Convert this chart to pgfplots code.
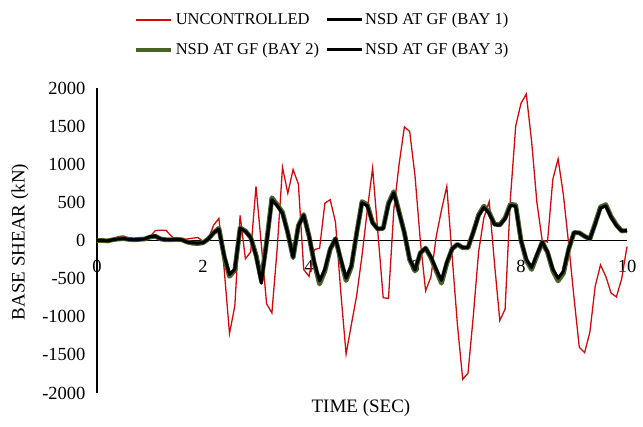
\documentclass[border=0pt]{standalone}
\usepackage{fontspec}
\setmainfont{Liberation Serif}
\usepackage{pgfplots}
\usepackage{pgfplotstable}
\pgfplotsset{compat=1.18}
\definecolor{ucred}{RGB}{210,10,10}
\definecolor{nsdgreen}{RGB}{70,100,40}

\pgfplotstableread{
t v
0.0 0
0.1 -5
0.2 -10
0.3 20
0.4 50
0.5 60
0.6 30
0.7 10
0.8 40
0.9 20
1.0 50
1.1 130
1.2 135
1.3 135
1.4 60
1.5 0
1.6 10
1.7 20
1.8 30
1.9 40
2.0 -10
2.1 20
2.2 200
2.3 290
2.4 -380
2.5 -1220
2.6 -860
2.7 330
2.8 -240
2.9 -150
3.0 710
3.1 -50
3.2 -830
3.3 -950
3.4 -100
3.5 960
3.6 620
3.7 930
3.8 740
3.9 -380
4.0 -470
4.1 -120
4.2 -100
4.3 490
4.4 535
4.5 240
4.6 -680
4.7 -1490
4.8 -1100
4.9 -720
5.0 -200
5.1 400
5.2 950
5.3 100
5.4 -750
5.5 -760
5.6 400
5.7 1000
5.8 1490
5.9 1430
6.0 850
6.1 0
6.2 -660
6.3 -480
6.4 50
6.5 400
6.6 710
6.7 -200
6.8 -1100
6.9 -1820
7.0 -1740
7.1 -990
7.2 -150
7.3 300
7.4 510
7.5 -300
7.6 -1050
7.7 -900
7.8 550
7.9 1500
8.0 1800
8.1 1920
8.2 1300
8.3 500
8.4 0
8.5 -20
8.6 800
8.7 1070
8.8 600
8.9 -50
9.0 -750
9.1 -1400
9.2 -1470
9.3 -1200
9.4 -600
9.5 -320
9.6 -470
9.7 -690
9.8 -740
9.9 -500
10.0 -80
}\uncontrolled

\pgfplotstableread{
t v
0.0 0
0.1 0
0.2 -5
0.3 10
0.4 20
0.5 25
0.6 15
0.7 10
0.8 15
0.9 20
1.0 50
1.1 60
1.2 20
1.3 10
1.4 10
1.5 15
1.6 10
1.7 -20
1.8 -30
1.9 -35
2.0 -30
2.1 20
2.2 100
2.3 155
2.4 -200
2.5 -450
2.6 -380
2.7 160
2.8 120
2.9 40
3.0 -200
3.1 -560
3.2 -30
3.3 540
3.4 460
3.5 360
3.6 100
3.7 -220
3.8 190
3.9 335
4.0 60
4.1 -290
4.2 -540
4.3 -380
4.4 -110
4.5 25
4.6 -250
4.7 -500
4.8 -330
4.9 100
5.0 500
5.1 460
5.2 230
5.3 150
5.4 160
5.5 480
5.6 630
5.7 370
5.8 100
5.9 -250
6.0 -390
6.1 -160
6.2 -100
6.3 -220
6.4 -380
6.5 -530
6.6 -290
6.7 -110
6.8 -50
6.9 -90
7.0 -90
7.1 110
7.2 330
7.3 440
7.4 360
7.5 210
7.6 200
7.7 290
7.8 465
7.9 455
8.0 0
8.1 -250
8.2 -360
8.3 -190
8.4 -20
8.5 -150
8.6 -380
8.7 -500
8.8 -410
8.9 -110
9.0 105
9.1 100
9.2 55
9.3 20
9.4 220
9.5 430
9.6 460
9.7 310
9.8 200
9.9 125
10.0 130
}\bayone

\pgfplotstableread{
t v
0.0 0
0.1 0
0.2 -5
0.3 10
0.4 20
0.5 25
0.6 15
0.7 10
0.8 15
0.9 20
1.0 45
1.1 55
1.2 20
1.3 10
1.4 10
1.5 15
1.6 10
1.7 -20
1.8 -35
1.9 -40
2.0 -30
2.1 20
2.2 100
2.3 160
2.4 -210
2.5 -470
2.6 -390
2.7 165
2.8 125
2.9 40
3.0 -190
3.1 -520
3.2 -20
3.3 560
3.4 470
3.5 370
3.6 100
3.7 -225
3.8 195
3.9 340
4.0 60
4.1 -300
4.2 -570
4.3 -400
4.4 -115
4.5 25
4.6 -260
4.7 -525
4.8 -345
4.9 100
5.0 510
5.1 470
5.2 235
5.3 150
5.4 160
5.5 490
5.6 640
5.7 375
5.8 100
5.9 -255
6.0 -400
6.1 -165
6.2 -100
6.3 -225
6.4 -395
6.5 -560
6.6 -300
6.7 -110
6.8 -50
6.9 -95
7.0 -95
7.1 110
7.2 335
7.3 450
7.4 365
7.5 215
7.6 205
7.7 295
7.8 475
7.9 465
8.0 0
8.1 -260
8.2 -380
8.3 -200
8.4 -20
8.5 -155
8.6 -395
8.7 -530
8.8 -430
8.9 -115
9.0 105
9.1 100
9.2 55
9.3 20
9.4 225
9.5 440
9.6 470
9.7 315
9.8 205
9.9 125
10.0 130
}\baytwo

\pgfplotstableread{
t v
0.0 0
0.1 0
0.2 -5
0.3 10
0.4 20
0.5 25
0.6 15
0.7 10
0.8 15
0.9 20
1.0 50
1.1 60
1.2 20
1.3 10
1.4 10
1.5 15
1.6 10
1.7 -20
1.8 -30
1.9 -35
2.0 -30
2.1 20
2.2 100
2.3 150
2.4 -200
2.5 -445
2.6 -375
2.7 160
2.8 120
2.9 40
3.0 -200
3.1 -555
3.2 -30
3.3 535
3.4 455
3.5 355
3.6 100
3.7 -220
3.8 190
3.9 330
4.0 60
4.1 -285
4.2 -530
4.3 -375
4.4 -110
4.5 25
4.6 -245
4.7 -495
4.8 -325
4.9 100
5.0 495
5.1 455
5.2 230
5.3 150
5.4 160
5.5 475
5.6 625
5.7 365
5.8 100
5.9 -245
6.0 -385
6.1 -160
6.2 -100
6.3 -215
6.4 -375
6.5 -525
6.6 -285
6.7 -110
6.8 -50
6.9 -90
7.0 -90
7.1 110
7.2 325
7.3 435
7.4 355
7.5 210
7.6 200
7.7 285
7.8 460
7.9 450
8.0 0
8.1 -245
8.2 -355
8.3 -185
8.4 -20
8.5 -150
8.6 -375
8.7 -495
8.8 -405
8.9 -110
9.0 105
9.1 100
9.2 55
9.3 20
9.4 215
9.5 425
9.6 455
9.7 305
9.8 195
9.9 125
10.0 130
}\baythree

\begin{document}
\begin{tikzpicture}[x=1pt,y=1pt]
\useasboundingbox (0,0) rectangle (643,426);
\begin{axis}[
  at={(97pt,33pt)}, anchor=south west,
  width=530pt, height=305pt, scale only axis,
  xmin=0, xmax=10, ymin=-2000, ymax=2000,
  axis x line=middle, axis y line=left,
  hide obscured x ticks=false,
  hide obscured y ticks=false,
  axis line style={-, black},
  x axis line style={line width=1.2pt},
  y axis line style={line width=1.8pt},
  xtick={0,2,4,6,8,10},
  ytick={-2000,-1500,-1000,-500,0,500,1000,1500,2000},
  major tick length=0pt,
  /pgf/number format/assume math mode=true,
  /pgf/number format/1000 sep={},
  tick label style={font=\fontsize{18.5}{20}\selectfont},
  xticklabel style={anchor=north, yshift=-16pt},
  yticklabel style={anchor=east, xshift=-8pt},
  xlabel={TIME (SEC)},
  ylabel={BASE SHEAR (kN)},
  label style={font=\fontsize{19}{21}\selectfont},
  xlabel style={at={(axis description cs:0.498,-0.05)}, anchor=center},
  ylabel style={at={(axis description cs:-0.145,0.495)}, anchor=center, rotate=0},
  legend columns=2,
  legend cell align=left,
  legend style={at={(axis description cs:0.425,1.258)}, anchor=north, draw=none, fill=none,
    font=\fontsize{16.5}{18}\selectfont, row sep=13pt,
    /tikz/every even column/.append style={column sep=4pt}},
  legend image code/.code={\draw[#1] (0pt,0pt) -- (35pt,0pt);},
  clip=false,
]
\addplot[ucred, line width=1.3pt] table[x=t,y=v] {\uncontrolled};
\addlegendentry{UNCONTROLLED}
\addplot[black, line width=3pt, line join=round] table[x=t,y=v] {\bayone};
\addlegendentry{NSD AT GF (BAY 1)}
\addplot[nsdgreen, line width=4.8pt, line join=round] table[x=t,y=v] {\baytwo};
\addlegendentry{NSD AT GF (BAY 2)}
\addplot[black, line width=3pt, line join=round] table[x=t,y=v] {\baythree};
\addlegendentry{NSD AT GF (BAY 3)}
\end{axis}
\end{tikzpicture}
\end{document}
